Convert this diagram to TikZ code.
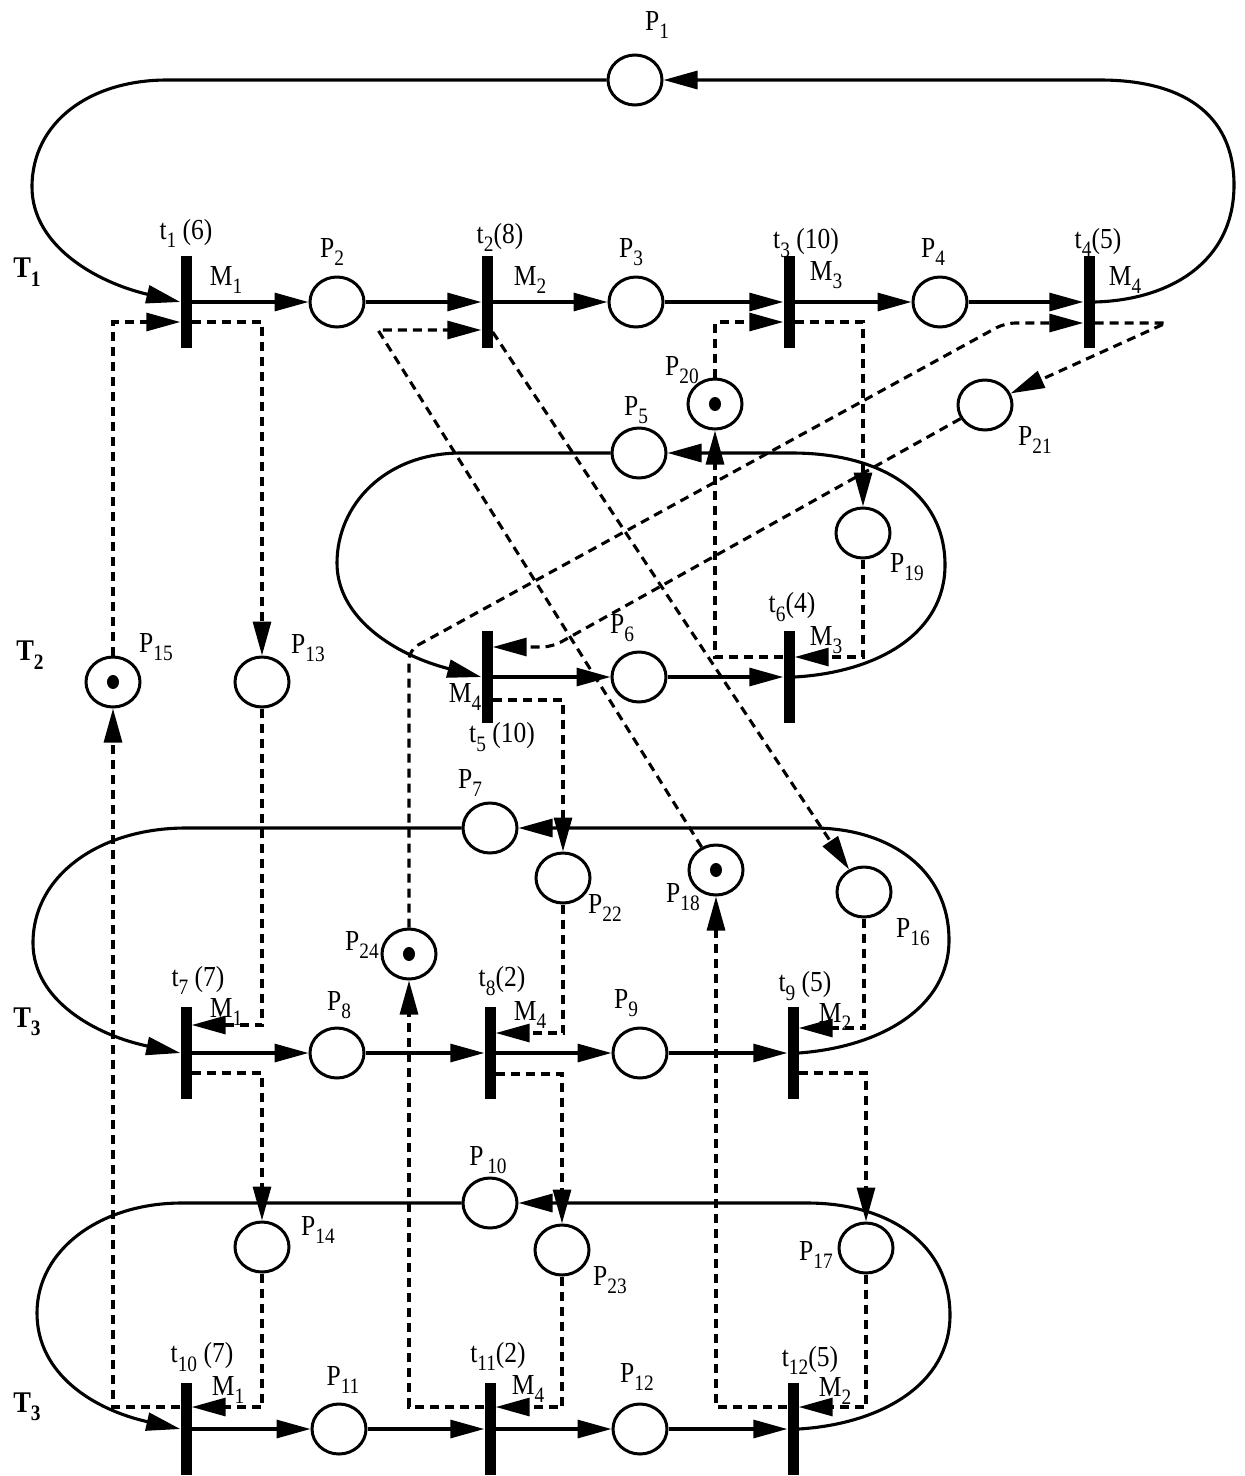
\documentclass[tikz,border=0pt]{standalone}
\usepackage{fontspec}
\setmainfont{Liberation Serif}
\newfontfamily\labfont[FakeStretch=0.88]{Liberation Serif}
\newcommand\lsub[1]{\raisebox{-0.28em}{\fontsize{22}{24}\selectfont #1}}
\usetikzlibrary{arrows.meta,shapes.geometric}
\begin{document}
\begin{tikzpicture}[x=1pt,y=-1pt,
  place/.style={draw,line width=3pt,ellipse,minimum width=54pt,minimum height=50pt,inner sep=0pt},
  trans/.style={fill=black,draw=none,minimum width=11pt,minimum height=92pt,inner sep=0pt},
  tok/.style={fill=black,ellipse,minimum width=12pt,minimum height=14pt,inner sep=0pt},
  arc/.style={line width=3.1pt,-{Triangle[length=34pt,width=18pt]}},
  darc/.style={arc,dash pattern=on 9pt off 6pt},
  lab/.style={font=\labfont\fontsize{29}{32}\selectfont,inner sep=0pt},
  tlab/.style={font=\labfont\fontsize{30}{33}\selectfont\bfseries,inner sep=0pt}]
\useasboundingbox (0,0) rectangle (1245,1476);
% transitions
\node[trans] (t1) at (186,302) {};
\node[trans] (t2) at (487,302) {};
\node[trans] (t3) at (789,302) {};
\node[trans] (t4) at (1089,302) {};
\node[trans] (t5) at (487,677) {};
\node[trans] (t6) at (789,677) {};
\node[trans] (t7) at (186,1053) {};
\node[trans] (t8) at (490,1053) {};
\node[trans] (t9) at (793,1053) {};
\node[trans] (t10) at (186,1429) {};
\node[trans] (t11) at (490,1429) {};
\node[trans] (t12) at (793,1429) {};
% places
\node[place] (P1) at (635,80) {};
\node[place] (P2) at (337,302) {};
\node[place] (P3) at (636,302) {};
\node[place] (P4) at (940,302) {};
\node[place] (P5) at (639,453) {};
\node[place] (P6) at (639,677) {};
\node[place] (P7) at (490,828) {};
\node[place] (P8) at (337,1053) {};
\node[place] (P9) at (640,1053) {};
\node[place] (P10) at (490,1203) {};
\node[place] (P11) at (339,1429) {};
\node[place] (P12) at (640,1429) {};
\node[place] (P13) at (262,682) {};
\node[place] (P14) at (262,1247) {};
\node[place] (P15) at (113,682) {};
\node[place] (P16) at (864,892) {};
\node[place] (P17) at (866,1248) {};
\node[place] (P18) at (716,870) {};
\node[place] (P19) at (863,533) {};
\node[place] (P20) at (715,404) {};
\node[place] (P21) at (985,405) {};
\node[place] (P22) at (563,878) {};
\node[place] (P23) at (562,1250) {};
\node[place] (P24) at (409,954) {};
% tokens
\node[tok] (k15) at (P15) {};
\node[tok] (k18) at (P18) {};
\node[tok] (k20) at (P20) {};
\node[tok] (k24) at (P24) {};
% solid arcs, row T1
\draw[arc] (t1) -- (P2);
\draw[arc] (P2) -- (t2);
\draw[arc] (t2) -- (P3);
\draw[arc] (P3) -- (t3);
\draw[arc] (t3) -- (P4);
\draw[arc] (P4) -- (t4);
\draw[arc] (t4.east) .. controls (1170,300) and (1234,262) .. (1234,185) .. controls (1234,112) and (1180,80) .. (1100,80) -- (P1);
\draw[arc] (P1) -- (167,80) .. controls (90,80) and (32,122) .. (32,187) .. controls (32,245) and (95,282) .. (t1.west);
% row T2
\draw[arc] (t5) -- (P6);
\draw[arc] (P6) -- (t6);
\draw[arc] (t6.east) .. controls (880,672) and (945,632) .. (945,565) .. controls (945,492) and (880,453) .. (792,453) -- (P5);
\draw[arc] (P5) -- (461,453) .. controls (385,453) and (337,505) .. (337,563) .. controls (337,618) and (395,655) .. (t5.west);
% row T3 (middle)
\draw[arc] (t7) -- (P8);
\draw[arc] (P8) -- (t8);
\draw[arc] (t8) -- (P9);
\draw[arc] (P9) -- (t9);
\draw[arc] (t9.east) .. controls (880,1047) and (949,1008) .. (949,940) .. controls (949,870) and (890,828) .. (813,828) -- (P7);
\draw[arc] (P7) -- (186,828) .. controls (100,828) and (33,875) .. (33,943) .. controls (33,1000) and (95,1035) .. (t7.west);
% row T3 (bottom)
\draw[arc] (t10) -- (P11);
\draw[arc] (P11) -- (t11);
\draw[arc] (t11) -- (P12);
\draw[arc] (P12) -- (t12);
\draw[arc] (t12.east) .. controls (880,1424) and (950,1385) .. (950,1315) .. controls (950,1245) and (890,1203) .. (807,1203) -- (P10);
\draw[arc] (P10) -- (182,1203) .. controls (100,1203) and (37,1250) .. (37,1313) .. controls (37,1375) and (95,1410) .. (t10.west);
% dashed arcs
\draw[darc] (P15.north) |- ([yshift=-20pt]t1.west);
\draw[darc] ([yshift=-20pt]t1.east) -| (P13.north);
\draw[darc] (P13.south) |- ([yshift=28pt]t7.east);
\draw[darc] ([yshift=-20pt]t7.east) -| (P14.north);
\draw[darc] (P14.south) |- ([yshift=22pt]t10.east);
\draw[darc] ([yshift=22pt]t10.west) -| (P15.south);
\draw[darc] (P18) -- (378,330) -- ([yshift=-28pt]t2.west);
\draw[darc] ([yshift=-30pt]t2.east) -- (P16);
\draw[darc] (P16.south) |- ([yshift=25pt]t9.east);
\draw[darc] ([yshift=-20pt]t9.east) -| (P17.north);
\draw[darc] (P17.south) |- ([yshift=22pt]t12.east);
\draw[darc] ([yshift=22pt]t12.west) -| (P18.south);
\draw[darc] (P20.north) |- ([yshift=-20pt]t3.west);
\draw[darc] ([yshift=-20pt]t3.east) -| (P19.north);
\draw[darc] (P19.south) |- ([yshift=20pt]t6.east);
\draw[darc] ([yshift=20pt]t6.west) -| (P20.south);
\draw[darc,rounded corners=10pt] (P24.north) -- (P24.north |- 0,650) -- (1005,323) -- ([yshift=-21pt]t4.west);
\draw[darc] ([yshift=-21pt]t4.east) -- (1166,323) -- (P21);
\draw[darc,rounded corners=10pt] (P21) -- (552,647) -- ([yshift=30pt]t5.east);
\draw[darc] ([yshift=-23pt]t5.east) -| (P22.north);
\draw[darc] (P22.south) |- ([yshift=20pt]t8.east);
\draw[darc] ([yshift=-21pt]t8.east) -| (P23.north);
\draw[darc] (P23.south) |- ([yshift=22pt]t11.east);
\draw[darc] ([yshift=22pt]t11.west) -| (P24.south);
% place labels
\node[lab] (lP1) at (657,25) {P\lsub{1}};
\node[lab] (lP2) at (332,252) {P\lsub{2}};
\node[lab] (lP3) at (631,252) {P\lsub{3}};
\node[lab] (lP4) at (933,252) {P\lsub{4}};
\node[lab] (lP5) at (636,410) {P\lsub{5}};
\node[lab] (lP6) at (622,628) {P\lsub{6}};
\node[lab] (lP7) at (470,783) {P\lsub{7}};
\node[lab] (lP8) at (339,1005) {P\lsub{8}};
\node[lab] (lP9) at (626,1003) {P\lsub{9}};
\node[lab] (lP10) at (488,1160) {P\lsub{\,10}};
\node[lab] (lP11) at (343,1380) {P\lsub{11}};
\node[lab] (lP12) at (637,1377) {P\lsub{12}};
\node[lab] (lP13) at (308,648) {P\lsub{13}};
\node[lab] (lP14) at (318,1230) {P\lsub{14}};
\node[lab] (lP15) at (156,647) {P\lsub{15}};
\node[lab] (lP16) at (913,932) {P\lsub{16}};
\node[lab] (lP17) at (816,1255) {P\lsub{17}};
\node[lab] (lP18) at (683,897) {P\lsub{18}};
\node[lab] (lP19) at (907,567) {P\lsub{19}};
\node[lab] (lP20) at (682,370) {P\lsub{20}};
\node[lab] (lP21) at (1035,440) {P\lsub{21}};
\node[lab] (lP22) at (605,908) {P\lsub{22}};
\node[lab] (lP23) at (610,1280) {P\lsub{23}};
\node[lab] (lP24) at (362,945) {P\lsub{24}};
% transition labels
\node[lab] (lt1) at (186,233) {t\lsub{1} (6)};
\node[lab] (lt2) at (500,237) {t\lsub{2}(8)};
\node[lab] (lt3) at (806,243) {t\lsub{3} (10)};
\node[lab] (lt4) at (1098,242) {t\lsub{4}(5)};
\node[lab] (lt5) at (502,737) {t\lsub{5} (10)};
\node[lab] (lt6) at (792,607) {t\lsub{6}(4)};
\node[lab] (lt7) at (198,980) {t\lsub{7} (7)};
\node[lab] (lt8) at (502,981) {t\lsub{8}(2)};
\node[lab] (lt9) at (805,986) {t\lsub{9} (5)};
\node[lab] (lt10) at (202,1357) {t\lsub{10} (7)};
\node[lab] (lt11) at (498,1356) {t\lsub{11}(2)};
\node[lab] (lt12) at (810,1360) {t\lsub{12}(5)};
% machine labels
\node[lab] (m1) at (226,280) {M\lsub{1}};
\node[lab] (m2) at (530,280) {M\lsub{2}};
\node[lab] (m3) at (826,275) {M\lsub{3}};
\node[lab] (m4) at (1125,280) {M\lsub{4}};
\node[lab] (m5) at (465,697) {M\lsub{4}};
\node[lab] (m6) at (826,640) {M\lsub{3}};
\node[lab] (m7) at (226,1012) {M\lsub{1}};
\node[lab] (m8) at (530,1015) {M\lsub{4}};
\node[lab] (m9) at (835,1017) {M\lsub{2}};
\node[lab] (m10) at (228,1390) {M\lsub{1}};
\node[lab] (m11) at (528,1389) {M\lsub{4}};
\node[lab] (m12) at (835,1391) {M\lsub{2}};
% task labels
\node[tlab] (T1) at (27,272) {T\lsub{1}};
\node[tlab] (T2) at (30,655) {T\lsub{2}};
\node[tlab] (T3) at (27,1022) {T\lsub{3}};
\node[tlab] (T4) at (27,1407) {T\lsub{3}};
\end{tikzpicture}
\end{document}
